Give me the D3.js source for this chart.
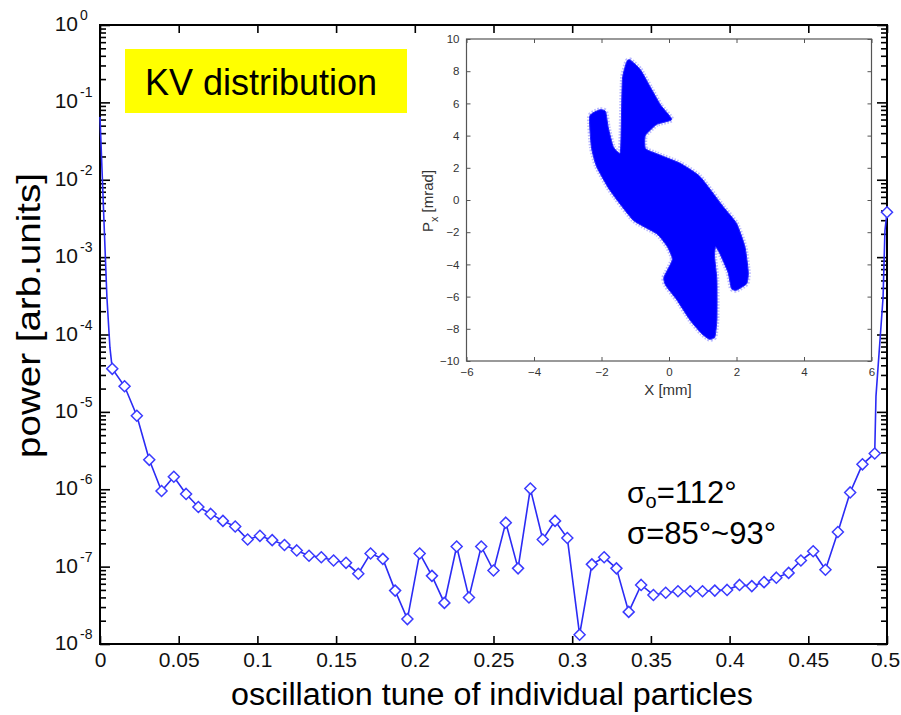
<!DOCTYPE html>
<html><head><meta charset="utf-8">
<script src="https://cdn.jsdelivr.net/npm/d3@7"></script>
<style>
body{margin:0;background:#fff;}
svg{display:block;font-family:"Liberation Sans",Arial,Helvetica,sans-serif;}
</style>
</head><body>
<svg id="c" width="901" height="715"></svg>
<script>
// ---- main spectrum: marked points ----
const tune = [0.0078,0.0156,0.0234,0.0313,0.0391,0.0469,0.0547,0.0625,0.0703,0.0781,
  0.0859,0.0938,0.1016,0.1094,0.1172,0.1250,0.1328,0.1406,0.1484,0.1563,
  0.1641,0.1719,0.1797,0.1875,0.1953,0.2031,0.2109,0.2188,0.2266,0.2344,
  0.2422,0.2500,0.2578,0.2656,0.2734,0.2813,0.2891,0.2969,0.3047,0.3125,
  0.3203,0.3281,0.3359,0.3438,0.3516,0.3594,0.3672,0.3750,0.3828,0.3906,
  0.3984,0.4063,0.4141,0.4219,0.4297,0.4375,0.4453,0.4531,0.4609,0.4688,
  0.4766,0.4844,0.4922,0.5000];
const power = [3.6e-5,2.14e-5,8.9e-6,2.4e-6,9.5e-7,1.45e-6,8.7e-7,5.9e-7,4.8e-7,3.9e-7,
  3.3e-7,2.24e-7,2.5e-7,2.2e-7,1.9e-7,1.62e-7,1.38e-7,1.32e-7,1.2e-7,1.12e-7,
  8.1e-8,1.48e-7,1.26e-7,4.9e-8,2.1e-8,1.48e-7,7.6e-8,3.4e-8,1.82e-7,4.0e-8,
  1.82e-7,8.9e-8,3.7e-7,9.5e-8,1.02e-6,2.24e-7,3.9e-7,2.34e-7,1.32e-8,1.07e-7,
  1.32e-7,9.5e-8,2.6e-8,5.8e-8,4.3e-8,4.6e-8,4.8e-8,4.8e-8,4.8e-8,4.9e-8,
  5.0e-8,5.8e-8,5.6e-8,6.3e-8,7.2e-8,8.3e-8,1.2e-7,1.58e-7,9.1e-8,2.8e-7,
  9.1e-7,2.1e-6,2.9e-6,3.8e-3];
// unmarked line points near the two ends
const edgeTune  = [0.0000,0.0025,0.0044,0.0063,0.4930,0.4975,0.4987];
const edgePower = [0.065,3.0e-3,3.0e-4,6.8e-5,1.6e-5,3.0e-4,2.2e-3];

const xTicks = [0,0.05,0.1,0.15,0.2,0.25,0.3,0.35,0.4,0.45,0.5];
const xTickLabels = ["0","0.05","0.1","0.15","0.2","0.25","0.3","0.35","0.4","0.45","0.5"];
const yExponents = [0,-1,-2,-3,-4,-5,-6,-7,-8];

// ---- inset phase space ----
const insetXTicks = [-6,-4,-2,0,2,4,6];
const insetYTicks = [10,8,6,4,2,0,-2,-4,-6,-8,-10];
const blobX = [-1.15,-0.85,-0.55,-0.25,0.08,-0.36,-0.7,-0.7,-0.4,0.33,0.92,1.6,2.0,2.25,2.35,2.3,2.0,1.85,1.75,1.5,1.38,
  1.35,1.42,1.42,1.36,1.2,0.97,0.62,0.23,-0.1,-0.15,0.1,-0.05,-0.36,-1.06,-1.75,-2.15,-2.3,-2.35,-2.05,-1.88,
  -1.8,-1.65,-1.45,-1.42,-1.38,-1.25];
const blobP = [8.7,8.1,7.0,5.9,5.0,4.7,4.0,3.2,2.9,2.28,1.45,-0.4,-1.45,-2.9,-4.5,-5.2,-5.6,-5.5,-4.5,-3.3,-2.9,
  -3.5,-5.0,-7.4,-8.5,-8.65,-8.3,-7.45,-6.2,-5.3,-4.8,-3.7,-2.9,-2.1,-1.25,0.6,2.1,3.3,5.2,5.6,5.5,
  4.5,3.3,2.9,4.0,7.5,8.6];

const svg = d3.select("#c");
const L = 100, R = 887, T = 25, B = 644;

const x = d3.scaleLinear().domain([0,0.5]).range([L,R]);
const y = d3.scaleLog().domain([1e-8,1]).range([B,T]);

const g = svg.append("g");

// ticks (inward)
const minorVals = y.ticks().filter(v => v >= 1e-8 && v <= 1);
const isMajor = v => Math.abs(Math.log10(v) - Math.round(Math.log10(v))) < 1e-9;

const axL = g.append("g").attr("transform",`translate(${L},0)`)
  .call(d3.axisLeft(y).tickValues(minorVals).tickSize(-6).tickFormat(""));
axL.selectAll(".tick line").attr("x2", d => isMajor(d) ? 10 : 6);
const axR = g.append("g").attr("transform",`translate(${R},0)`)
  .call(d3.axisRight(y).tickValues(minorVals).tickSize(-6).tickFormat(""));
axR.selectAll(".tick line").attr("x2", d => isMajor(d) ? -10 : -6);
const axB = g.append("g").attr("transform",`translate(0,${B})`)
  .call(d3.axisBottom(x).tickValues(xTicks).tickSize(-8).tickFormat((d,i)=>xTickLabels[i]).tickPadding(8));
const axT = g.append("g").attr("transform",`translate(0,${T})`)
  .call(d3.axisTop(x).tickValues(xTicks).tickSize(-8).tickFormat(""));
[axL,axR,axB,axT].forEach(a=>{
  a.select(".domain").remove();
  a.selectAll(".tick line").attr("stroke","#000").attr("stroke-width",1.6);
});
axB.selectAll(".tick text").attr("font-size",21).attr("fill","#111")
  .attr("font-family","'Liberation Sans',Arial,sans-serif").attr("dy","0.72em")
  .attr("dx", (d,i)=> i===xTicks.length-1 ? -2 : 0);

// frame
g.append("rect").attr("x",L).attr("y",T).attr("width",R-L).attr("height",B-T)
  .attr("fill","none").attr("stroke","#000").attr("stroke-width",2);

// y tick labels 10^n
yExponents.forEach(e=>{
  const yy = y(Math.pow(10,e));
  g.append("text").attr("x",78).attr("y",yy+6).attr("text-anchor","end")
    .attr("font-size",21).attr("fill","#111").text("10");
  g.append("text").attr("x",80).attr("y",yy-5).attr("font-size",14).attr("fill","#111")
    .text(e===0 ? "0" : "-" + Math.abs(e));
});

// axis titles
g.append("text").attr("transform",`translate(40,${(173+458)/2}) rotate(-90)`)
  .attr("text-anchor","middle").attr("font-size",33).attr("fill","#000")
  .attr("textLength",285).attr("lengthAdjust","spacingAndGlyphs")
  .text("power [arb.units]");
g.append("text").attr("x",492).attr("y",705).attr("text-anchor","middle")
  .attr("font-size",31).attr("fill","#000")
  .attr("textLength",522).attr("lengthAdjust","spacingAndGlyphs")
  .text("oscillation tune of individual particles");

// ---- inset ----
const iL = 466.5, iR = 871.5, iT = 39, iB = 361;
const ix = d3.scaleLinear().domain([-6,6]).range([iL,iR]);
const iy = d3.scaleLinear().domain([-10,10]).range([iB,iT]);
const ig = svg.append("g");
ig.append("rect").attr("x",iL).attr("y",iT).attr("width",iR-iL).attr("height",iB-iT)
  .attr("fill","#fff").attr("stroke","none");

const blob = blobX.map((v,i)=>[ix(v), iy(blobP[i])]);
const blobPath = d3.line().curve(d3.curveCardinalClosed.tension(0.5))(blob);
ig.append("path").attr("d", blobPath)
  .attr("fill","none").attr("stroke","#6a6aff").attr("stroke-opacity",0.45).attr("stroke-width",5)
  .attr("stroke-dasharray","1.5,1.5");
ig.append("path").attr("d", blobPath)
  .attr("fill","#0000ff").attr("stroke","#2020ff").attr("stroke-width",1);

const iaB = ig.append("g").attr("transform",`translate(0,${iB})`)
  .call(d3.axisBottom(ix).tickValues(insetXTicks).tickSize(-4).tickPadding(7));
const iaT = ig.append("g").attr("transform",`translate(0,${iT})`)
  .call(d3.axisTop(ix).tickValues(insetXTicks).tickSize(-4).tickFormat(""));
const iaL = ig.append("g").attr("transform",`translate(${iL},0)`)
  .call(d3.axisLeft(iy).tickValues(insetYTicks).tickSize(-4).tickPadding(7));
const iaR = ig.append("g").attr("transform",`translate(${iR},0)`)
  .call(d3.axisRight(iy).tickValues(insetYTicks).tickSize(-4).tickFormat(""));
[iaB,iaT,iaL,iaR].forEach(a=>{
  a.select(".domain").remove();
  a.selectAll(".tick line").attr("stroke","#555").attr("stroke-width",1);
  a.selectAll(".tick text").attr("font-size",11.5).attr("fill","#333")
    .attr("font-family","'Liberation Sans',Arial,sans-serif");
});
ig.append("rect").attr("x",iL).attr("y",iT).attr("width",iR-iL).attr("height",iB-iT)
  .attr("fill","none").attr("stroke","#555").attr("stroke-width",1.2);
ig.append("text").attr("x",(643+693)/2).attr("y",395).attr("text-anchor","middle")
  .attr("font-size",15).attr("fill","#333").text("X [mm]");
const pl = ig.append("text").attr("transform",`translate(433,201) rotate(-90)`)
  .attr("text-anchor","middle").attr("font-size",15).attr("fill","#333");
pl.append("tspan").text("P");
pl.append("tspan").attr("dy",5).attr("font-size",11).text("x");
pl.append("tspan").attr("dy",-5).text(" [mrad]");

// ---- spectrum line & markers ----
const linePts = tune.map((t,i)=>[t,power[i]])
  .concat(edgeTune.map((t,i)=>[t,edgePower[i]]))
  .sort((a,b)=>a[0]-b[0]);
svg.append("path").attr("d", d3.line().x(d=>x(d[0])).y(d=>y(d[1]))(linePts))
  .attr("fill","none").attr("stroke","#2b2bf5").attr("stroke-width",1.6);
const dsz = 5.5;
svg.append("g").selectAll("path").data(tune.map((t,i)=>[t,power[i]])).join("path")
  .attr("d", d=>{const cx=x(d[0]), cy=y(d[1]);
    return `M${cx},${cy-dsz}L${cx+dsz},${cy}L${cx},${cy+dsz}L${cx-dsz},${cy}Z`;})
  .attr("fill","#fff").attr("stroke","#3a3aff").attr("stroke-width",1.5);

// ---- annotations ----
svg.append("rect").attr("x",125).attr("y",49).attr("width",282).attr("height",64).attr("fill","#ffff00");
svg.append("text").attr("x",145).attr("y",95).attr("font-size",36).attr("fill","#000").text("KV distribution");

const a1 = svg.append("text").attr("x",627).attr("y",503).attr("font-size",30).attr("fill","#000");
a1.append("tspan").text("σ");
a1.append("tspan").attr("dy",5).attr("font-size",20).text("o");
a1.append("tspan").attr("dy",-5).attr("font-size",31).text("=112°");
svg.append("text").attr("x",627).attr("y",544).attr("font-size",31).attr("fill","#000").text("σ=85°~93°");
</script>
</body></html>
